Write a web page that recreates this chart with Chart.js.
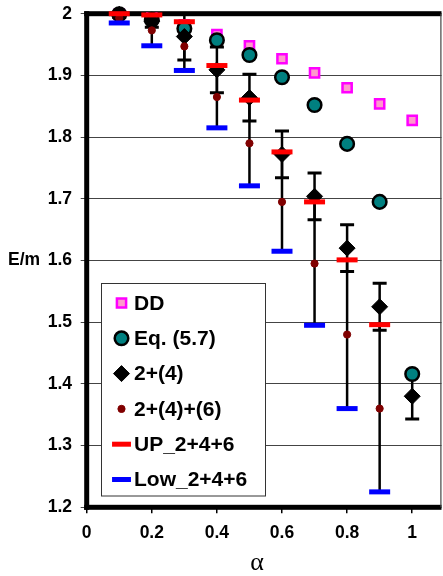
<!DOCTYPE html>
<html>
<head>
<meta charset="utf-8">
<script src="https://cdn.jsdelivr.net/npm/chart.js@4.4.0/dist/chart.umd.min.js"></script>
<style>
  html, body { margin: 0; padding: 0; background: #fff; }
  canvas { display: block; }
</style>
</head>
<body>
<canvas id="myChart" width="443" height="576"></canvas>
<script>
// α の値
const alphas = [0.1, 0.2, 0.3, 0.4, 0.5, 0.6, 0.7, 0.8, 0.9, 1.0];

// 各系列 (E/m)
const ddValues    = [1.999, 1.993, 1.982, 1.966, 1.948, 1.927, 1.904, 1.880, 1.854, 1.827];
const eqValues    = [1.999, 1.990, 1.976, 1.957, 1.933, 1.897, 1.852, 1.789, 1.695, 1.416];
const sum24Values = [1.999, 1.988, 1.963, 1.909, 1.864, 1.772, 1.704, 1.620, 1.525, 1.380];
const sum24Err    = [0.005, 0.010, 0.038, 0.037, 0.038, 0.038, 0.038, 0.038, 0.038, 0.037];
const sum246Values = [1.993, 1.973, 1.947, 1.865, 1.790, 1.695, 1.595, 1.480, 1.360];
const upValues    = [2.000, 1.998, 1.987, 1.916, 1.860, 1.776, 1.695, 1.601, 1.496];
const lowValues   = [1.985, 1.948, 1.908, 1.815, 1.721, 1.615, 1.495, 1.360, 1.225];

const seriesNames = ['DD', 'Eq. (5.7)', '2+(4)', '2+(4)+(6)', 'UP_2+4+6', 'Low_2+4+6'];

// 目盛り
const xTicks = [0, 0.2, 0.4, 0.6, 0.8, 1];
const yTicks = [1.2, 1.3, 1.4, 1.5, 1.6, 1.7, 1.8, 1.9, 2];

const SANS = '"Liberation Sans", Arial, sans-serif';

function toPoints(values) {
    return values.map((v, i) => ({ x: alphas[i], y: v }));
}

// 凡例用のマーカー描画
function drawMarker(ctx, ds, cx, cy) {
    ctx.save();
    ctx.lineWidth = ds.pointBorderWidth;
    ctx.strokeStyle = ds.pointBorderColor;
    ctx.fillStyle = ds.pointBackgroundColor || ds.pointBorderColor;
    const r = ds.pointRadius;
    ctx.beginPath();
    if (ds.pointStyle === 'rect') {
        const s = r * Math.SQRT1_2;
        ctx.rect(cx - s, cy - s, 2 * s, 2 * s);
        ctx.fill(); ctx.stroke();
    } else if (ds.pointStyle === 'circle') {
        ctx.arc(cx, cy, r, 0, Math.PI * 2);
        ctx.fill(); ctx.stroke();
    } else if (ds.pointStyle === 'rectRot') {
        ctx.moveTo(cx - r, cy); ctx.lineTo(cx, cy - r);
        ctx.lineTo(cx + r, cy); ctx.lineTo(cx, cy + r);
        ctx.closePath();
        ctx.fill(); ctx.stroke();
    } else if (ds.pointStyle === 'line') {
        ctx.moveTo(cx - r * 0.9, cy); ctx.lineTo(cx + r * 0.9, cy);
        ctx.stroke();
    }
    ctx.restore();
}

// エラーバーと枠線
const errorBarsAndFrame = {
    id: 'errorBarsAndFrame',
    beforeDatasetsDraw(chart) {
        const { ctx, chartArea: area, scales: { x, y } } = chart;
        ctx.save();
        ctx.beginPath();
        ctx.rect(area.left, area.top, area.right - area.left, area.bottom - area.top);
        ctx.clip();
        ctx.strokeStyle = '#000';
        ctx.lineCap = 'butt';

        // 2+(4)+(6): UP から Low まで
        ctx.lineWidth = 2.5;
        upValues.forEach((up, i) => {
            const px = x.getPixelForValue(alphas[i]);
            ctx.beginPath();
            ctx.moveTo(px, y.getPixelForValue(up));
            ctx.lineTo(px, y.getPixelForValue(lowValues[i]));
            ctx.stroke();
        });

        // 2+(4): 上下キャップ付き
        sum24Values.forEach((v, i) => {
            const px = x.getPixelForValue(alphas[i]);
            const top = y.getPixelForValue(v + sum24Err[i]);
            const bot = y.getPixelForValue(v - sum24Err[i]);
            ctx.lineWidth = 2.5;
            ctx.beginPath();
            ctx.moveTo(px, top); ctx.lineTo(px, bot);
            ctx.stroke();
            ctx.lineWidth = 3;
            ctx.beginPath();
            ctx.moveTo(px - 7, top); ctx.lineTo(px + 7, top);
            ctx.moveTo(px - 7, bot); ctx.lineTo(px + 7, bot);
            ctx.stroke();
        });
        ctx.restore();

        // 枠線 (左・上・下は太線, 右は細線)
        ctx.save();
        ctx.fillStyle = '#000';
        ctx.fillRect(area.left - 2.5, area.top - 2.5, 5, area.bottom - area.top + 5);
        ctx.fillRect(area.left - 2.5, area.top - 2.5, area.right - area.left + 2.5, 5);
        ctx.fillRect(area.left - 2.5, area.bottom - 2.5, area.right - area.left + 2.5, 5);
        ctx.strokeStyle = '#444';
        ctx.lineWidth = 1.2;
        ctx.beginPath();
        ctx.moveTo(area.right - 0.6, area.top);
        ctx.lineTo(area.right - 0.6, area.bottom);
        ctx.stroke();
        ctx.restore();
    },
    afterDraw(chart) {
        const { ctx, scales: { y } } = chart;
        ctx.save();

        // 縦軸ラベル
        ctx.fillStyle = '#000';
        ctx.font = 'bold 17.5px ' + SANS;
        ctx.textAlign = 'left';
        ctx.textBaseline = 'middle';
        ctx.fillText('E/m', 8, y.getPixelForValue(1.6));

        // 横軸ラベル
        ctx.font = '26px "Liberation Serif", "Times New Roman", serif';
        ctx.textAlign = 'center';
        ctx.fillText('α', 257, 563);

        // 凡例
        const box = { left: 101.5, top: 283.5, right: 265.5, bottom: 496 };
        ctx.fillStyle = '#fff';
        ctx.fillRect(box.left, box.top, box.right - box.left, box.bottom - box.top);
        ctx.strokeStyle = '#333';
        ctx.lineWidth = 1;
        ctx.strokeRect(box.left, box.top, box.right - box.left, box.bottom - box.top);

        const order = [5, 4, 3, 2, 1, 0]; // datasets は上に描くものから並べている
        ctx.font = 'bold 21px ' + SANS;
        ctx.textAlign = 'left';
        ctx.textBaseline = 'middle';
        order.forEach((di, row) => {
            const ds = chart.data.datasets[di];
            const cy = 303 + row * 35.3;
            drawMarker(ctx, ds, 121.5, cy);
            ctx.fillStyle = '#000';
            ctx.fillText(ds.label, 134, cy + 1);
        });
        ctx.restore();
    }
};

const chartData = {
    datasets: [
        {
            label: seriesNames[5],
            data: toPoints(lowValues),
            pointStyle: 'line', pointRadius: 10.5,
            pointBorderColor: '#0000FF', pointBorderWidth: 5,
            order: 0
        },
        {
            label: seriesNames[4],
            data: toPoints(upValues),
            pointStyle: 'line', pointRadius: 10.5,
            pointBorderColor: '#FF0000', pointBorderWidth: 5,
            order: 1
        },
        {
            label: seriesNames[3],
            data: toPoints(sum246Values),
            pointStyle: 'circle', pointRadius: 3.6,
            pointBackgroundColor: '#800000', pointBorderColor: '#800000', pointBorderWidth: 1,
            order: 2
        },
        {
            label: seriesNames[2],
            data: toPoints(sum24Values),
            pointStyle: 'rectRot', pointRadius: 8,
            pointBackgroundColor: '#000', pointBorderColor: '#000', pointBorderWidth: 1,
            order: 3
        },
        {
            label: seriesNames[1],
            data: toPoints(eqValues),
            pointStyle: 'circle', pointRadius: 6.8,
            pointBackgroundColor: '#008080', pointBorderColor: '#000', pointBorderWidth: 2.5,
            order: 4
        },
        {
            label: seriesNames[0],
            data: toPoints(ddValues),
            pointStyle: 'rect', pointRadius: 6.5,
            pointBackgroundColor: '#FF99CC', pointBorderColor: '#FF00FF', pointBorderWidth: 2.5,
            order: 5
        }
    ]
};
chartData.datasets.forEach(ds => { ds.showLine = false; ds.clip = false; });

const ctx = document.getElementById('myChart').getContext('2d');
const myChart = new Chart(ctx, {
    type: 'scatter',
    data: chartData,
    options: {
        responsive: false,
        devicePixelRatio: 1,
        animation: false,
        events: [],
        layout: { autoPadding: false, padding: { top: 13.7, right: 1.5, left: 0, bottom: 0 } },
        plugins: {
            legend: { display: false },
            tooltip: { enabled: false }
        },
        scales: {
            x: {
                type: 'linear',
                min: 0,
                max: 1.09,
                afterFit: scale => {
                    scale.height = 68.7;
                    scale.paddingLeft = 0;
                    scale.paddingRight = 0;
                },
                afterBuildTicks: scale => { scale.ticks = xTicks.map(v => ({ value: v })); },
                grid: {
                    display: true, drawOnChartArea: false, drawTicks: true,
                    tickLength: 6, color: '#000', lineWidth: 1.5
                },
                border: { display: false },
                ticks: {
                    padding: 9.5,
                    color: '#000',
                    maxRotation: 0,
                    font: { family: SANS, size: 17.5, weight: 'bold' },
                    callback: v => String(Math.round(v * 10) / 10)
                }
            },
            y: {
                type: 'linear',
                min: 1.2,
                max: 2,
                afterFit: scale => {
                    scale.width = 86.7;
                    scale.paddingTop = 0;
                    scale.paddingBottom = 0;
                },
                afterBuildTicks: scale => { scale.ticks = yTicks.map(v => ({ value: v })); },
                grid: {
                    display: true, drawTicks: true,
                    tickLength: 6, color: '#444', lineWidth: 1
                },
                border: { display: false },
                ticks: {
                    padding: 8.7,
                    color: '#000',
                    font: { family: SANS, size: 17.5, weight: 'bold' },
                    callback: v => String(Math.round(v * 10) / 10)
                }
            }
        }
    },
    plugins: [errorBarsAndFrame]
});
</script>
</body>
</html>
